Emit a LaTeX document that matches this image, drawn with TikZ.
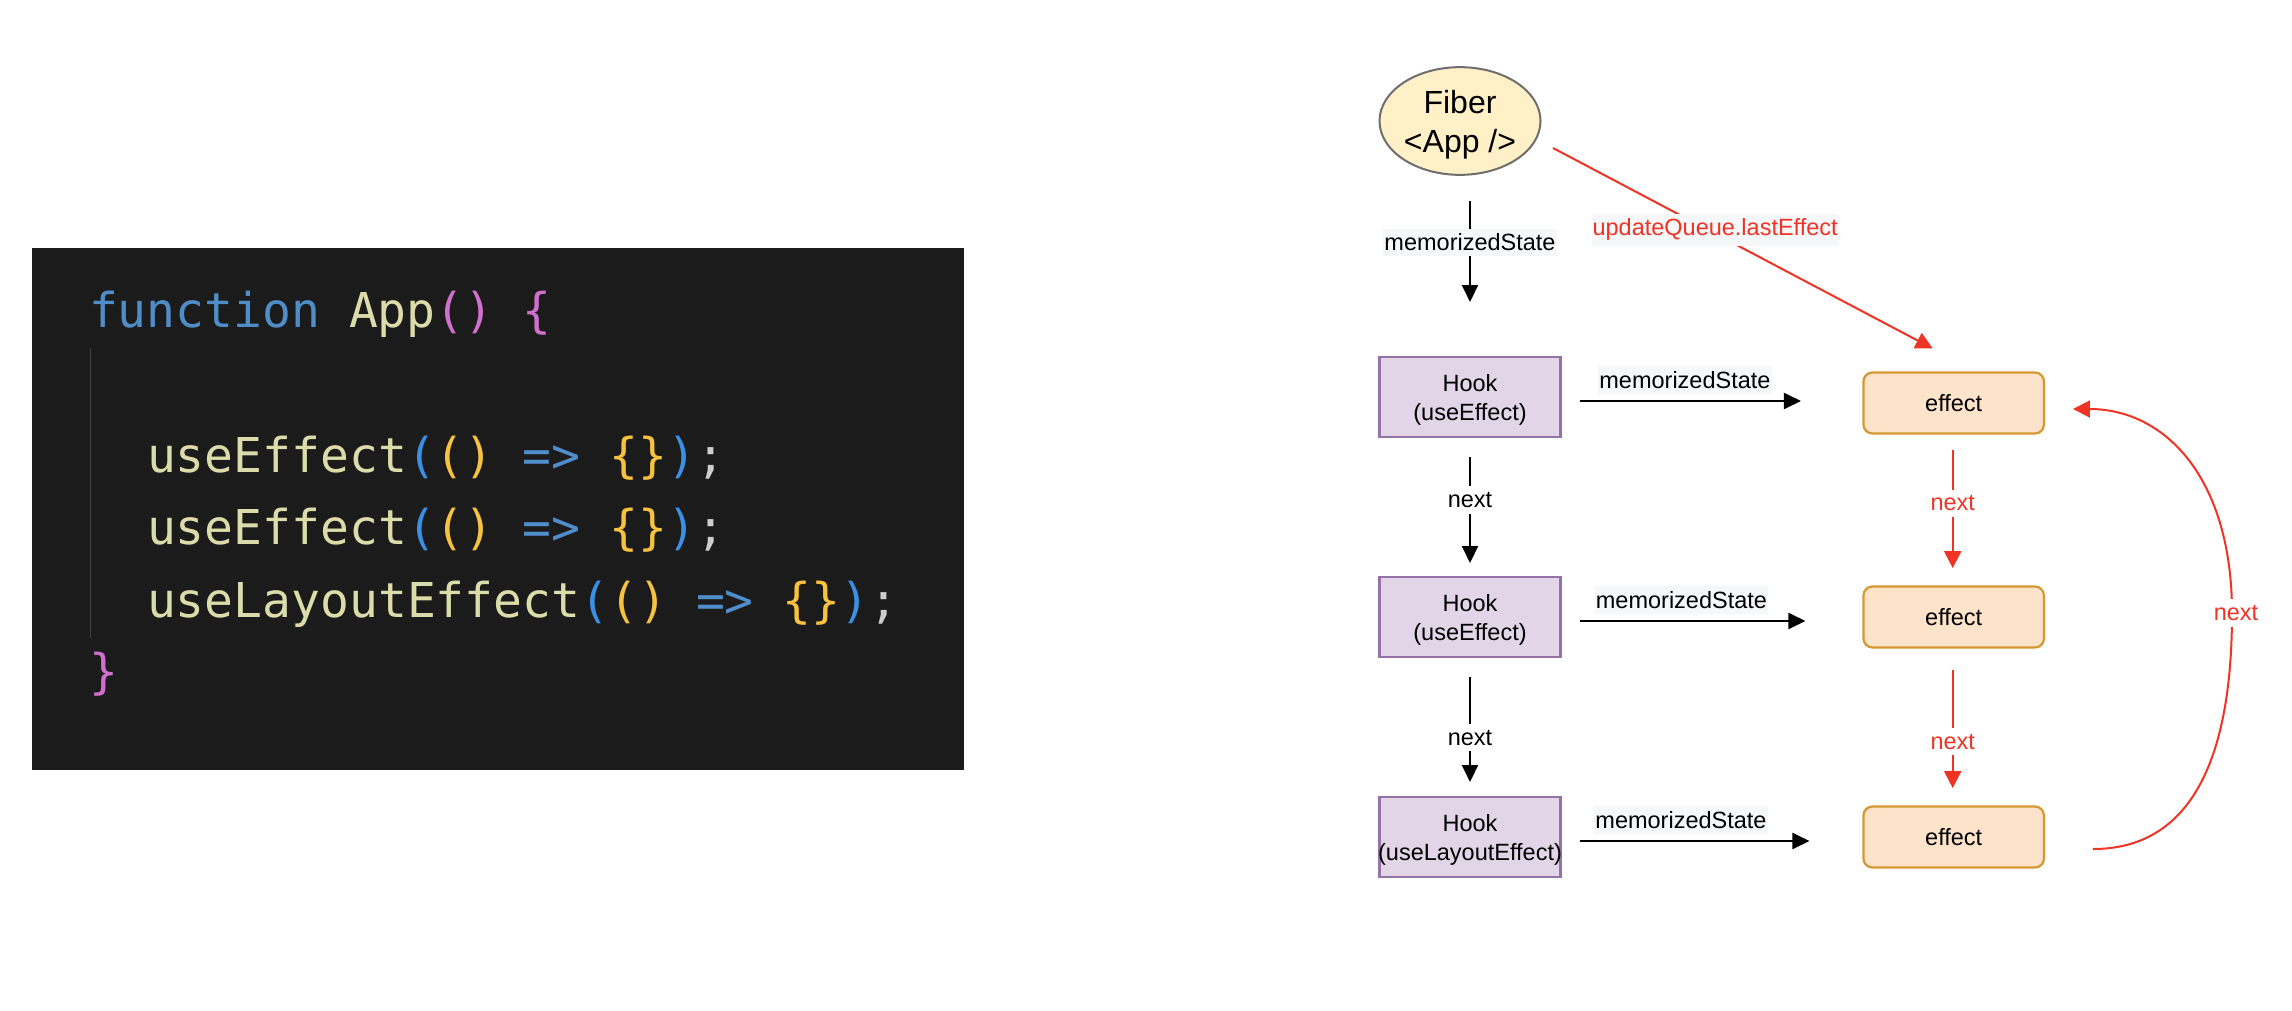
\documentclass[tikz,border=0pt]{standalone}
\usepackage{fontspec}
\setmainfont{Liberation Sans}
\newfontfamily\codefont{DejaVu Sans Mono}
\usetikzlibrary{arrows.meta,calc,shapes.geometric}

\definecolor{codebg}{HTML}{1B1B1B}
\definecolor{kwblue}{HTML}{4F8DC9}
\definecolor{fnyellow}{HTML}{DCDCAA}
\definecolor{brpurple}{HTML}{D16FCE}
\definecolor{brblue}{HTML}{3B8FE5}
\definecolor{brgold}{HTML}{F7C23E}
\definecolor{opblue}{HTML}{4F8DCB}
\definecolor{punct}{HTML}{CCCCCC}
\definecolor{guide}{HTML}{404040}
\definecolor{hookfill}{HTML}{E1D5E7}
\definecolor{hookdraw}{HTML}{9673A6}
\definecolor{efffill}{HTML}{FCE3C9}
\definecolor{effdraw}{HTML}{D69630}
\definecolor{fiberfill}{HTML}{FFF0C8}
\definecolor{fiberdraw}{HTML}{6E6E6E}
\definecolor{linkred}{HTML}{EF3426}
\definecolor{lblbg}{HTML}{F6F7F9}

\newcommand\diagfont{\fontsize{23.5}{28.2}\selectfont}
\newcommand\fiberfont{\fontsize{32}{38.5}\selectfont}
\newcommand\codesize{\fontsize{48}{57}\selectfont\codefont}

\begin{document}
\begin{tikzpicture}[x=1pt,y=-1pt,
  every node/.style={outer sep=0pt},
  codeline/.style={anchor=base west, inner sep=0pt, font=\codesize},
  fibernode/.style={ellipse, draw=fiberdraw, fill=fiberfill, line width=2pt,
    minimum width=161pt, minimum height=100pt, inner sep=0pt, align=center, font=\fiberfont},
  hookbox/.style={rectangle, draw=hookdraw, fill=hookfill, line width=2.2pt,
    minimum width=181pt, minimum height=80pt, inner sep=0pt, align=center, font=\diagfont},
  effbox/.style={rectangle, rounded corners=9pt, draw=effdraw, fill=efffill, line width=2.2pt,
    minimum width=180.5pt, minimum height=61pt, inner sep=0pt, font=\diagfont},
  blk/.style={draw=black, line width=2pt, -{Triangle[length=17pt,width=16pt]}},
  redarr/.style={draw=linkred, line width=2pt, -{Triangle[length=17pt,width=17pt]}},
  lbl/.style={fill=lblbg, inner xsep=1pt, inner ysep=5pt, font=\diagfont, text=black},
  nxt/.style={fill=white, inner xsep=2pt, inner ysep=6pt, font=\diagfont, text=black},
  nxtred/.style={nxt, text=linkred},
  lblred/.style={lbl, text=linkred}
]
\useasboundingbox (0,0) rectangle (2292,1010);
\fill[white] (0,0) rectangle (2292,1010);

% ---- code panel ----
\node[fill=codebg, minimum width=932pt, minimum height=522pt, inner sep=0pt, anchor=north west] (codebox) at (32,248) {};
\draw[guide, line width=1.5pt] (90.6,348) -- (90.6,638);
\node[codeline] (c1) at (89,327.8) {\textcolor{kwblue}{function} \textcolor{fnyellow}{App}\textcolor{brpurple}{() \{}};
\node[codeline] (c2) at (147,472.4) {\textcolor{fnyellow}{useEffect}\textcolor{brblue}{(}\textcolor{brgold}{()} \textcolor{opblue}{=>} \textcolor{brgold}{\{\}}\textcolor{brblue}{)}\textcolor{punct}{;}};
\node[codeline] (c3) at (147,544.7) {\textcolor{fnyellow}{useEffect}\textcolor{brblue}{(}\textcolor{brgold}{()} \textcolor{opblue}{=>} \textcolor{brgold}{\{\}}\textcolor{brblue}{)}\textcolor{punct}{;}};
\node[codeline] (c4) at (147,617) {\textcolor{fnyellow}{useLayoutEffect}\textcolor{brblue}{(}\textcolor{brgold}{()} \textcolor{opblue}{=>} \textcolor{brgold}{\{\}}\textcolor{brblue}{)}\textcolor{punct}{;}};
\node[codeline] (c5) at (89,688) {\textcolor{brpurple}{\}}};

% ---- diagram nodes ----
\node[fibernode] (fiber) at (1460,121) {\rule{0pt}{31pt}Fiber\\<App />};
\node[hookbox] (hook1) at (1470,397) {\rule{0pt}{23pt}Hook\\(useEffect)};
\node[hookbox] (hook2) at (1470,617) {\rule{0pt}{23pt}Hook\\(useEffect)};
\node[hookbox] (hook3) at (1470,837) {\rule{0pt}{23pt}Hook\\\makebox[0pt]{(useLayoutEffect)}};
\node[effbox] (eff1) at (1953.7,403) {effect};
\node[effbox] (eff2) at (1953.7,617) {effect};
\node[effbox] (eff3) at (1953.7,837) {effect};

% ---- black connectors ----
\draw[blk] ($(fiber.south -| hook1.north)+(0,26)$) -- ($(hook1.north)+(0,-55)$)
  node[lbl, pos=0.41] {memorizedState};
\draw[blk] ($(hook1.south)+(0,20)$) -- ($(hook2.north)+(0,-14)$)
  node[nxt, pos=0.405] {next};
\draw[blk] ($(hook2.south)+(0,20)$) -- ($(hook3.north)+(0,-15)$)
  node[nxt, pos=0.578] {next};

\draw[blk] ($(hook1.east)+(19.5,4)$) -- ($(eff1.west)+(-62.5,-2)$)
  node[lbl, pos=0.475, yshift=21pt] {memorizedState};
\draw[blk] ($(hook2.east)+(19.5,4)$) -- ($(eff2.west)+(-58,4)$)
  node[lbl, pos=0.45, yshift=21pt] {memorizedState};
\draw[blk] ($(hook3.east)+(19.5,4)$) -- ($(eff3.west)+(-54,4)$)
  node[lbl, pos=0.44, yshift=21pt] {memorizedState};

% ---- red connectors ----
\draw[redarr] ($(fiber.center)+(93,27)$) -- ($(eff1.north)+(-21,-24)$)
  node[lblred, pos=0.427, yshift=4pt] {updateQueue.lastEffect};
\draw[redarr] ($(eff1.south)+(-1,16)$) -- ($(eff2.north)+(-1,-18.4)$)
  node[nxtred, pos=0.454] {next};
\draw[redarr] ($(eff2.south)+(-1,22)$) -- ($(eff3.north)+(-1,-18.4)$)
  node[nxtred, pos=0.608] {next};

\coordinate (cmid) at (2232,613);
\draw[redarr] ($(eff3.east)+(49,12)$) .. controls +(87,0) and +(0,165) .. (cmid)
  node[nxtred, xshift=4pt] {next}
  .. controls +(0,-135) and +(92,0) .. ($(eff1.east)+(29,6)$);
\end{tikzpicture}
\end{document}
